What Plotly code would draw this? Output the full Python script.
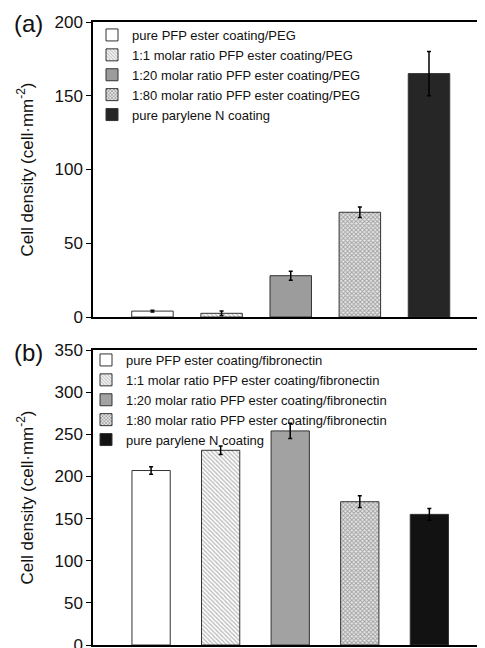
import plotly.graph_objects as go

categories = ["c1", "c2", "c3", "c4", "c5"]
names_a = ["pure PFP ester coating/PEG", "1:1 molar ratio PFP ester coating/PEG",
           "1:20 molar ratio PFP ester coating/PEG", "1:80 molar ratio PFP ester coating/PEG",
           "pure parylene N coating"]
values_a = [4, 2.5, 28, 71, 165]
errors_a = [0.6, 1.5, 3, 3.5, 15]
names_b = ["pure PFP ester coating/fibronectin", "1:1 molar ratio PFP ester coating/fibronectin",
           "1:20 molar ratio PFP ester coating/fibronectin", "1:80 molar ratio PFP ester coating/fibronectin",
           "pure parylene N coating"]
values_b = [207, 231, 254, 170, 155]
errors_b = [4.5, 5, 9, 7, 7]

# page body has an 8px margin; figure coordinates = screen coordinates - 8
OFF = 8
W, H = 485 - OFF, 648 - OFF
L = 93 - OFF

def dom(top, bottom):
    return [1 - (bottom - OFF) / H, 1 - (top - OFF) / H]

def py(y):
    return 1 - (y - OFF) / H

def px(x):
    return (x - OFF - L) / (W - L)

hatch = dict(shape="\\", fgcolor="#7a7a7a", bgcolor="white", size=3, solidity=0.45)
check = dict(shape="x", fgcolor="#5a5a5a", bgcolor="#e8e8e8", size=3, solidity=0.55)

styles_a = [
    dict(color="white", pattern=None),
    dict(color="white", pattern=hatch),
    dict(color="#9c9c9c", pattern=None),
    dict(color="white", pattern=check),
    dict(color="#262626", pattern=None),
]
styles_b = [
    dict(color="white", pattern=None),
    dict(color="white", pattern=hatch),
    dict(color="#a2a2a2", pattern=None),
    dict(color="white", pattern=check),
    dict(color="#121212", pattern=None),
]

fig = go.Figure()

for i in range(5):
    m = dict(color=styles_a[i]["color"], line=dict(color="#333333", width=1))
    if styles_a[i]["pattern"]:
        m["pattern"] = styles_a[i]["pattern"]
    fig.add_trace(go.Bar(x=[categories[i]], y=[values_a[i]], name=names_a[i], marker=m,
                         width=0.6, xaxis="x", yaxis="y", legend="legend",
                         error_y=dict(type="data", array=[errors_a[i]], color="black", thickness=1.5, width=2)))
for i in range(5):
    m = dict(color=styles_b[i]["color"], line=dict(color="#333333", width=1))
    if styles_b[i]["pattern"]:
        m["pattern"] = styles_b[i]["pattern"]
    fig.add_trace(go.Bar(x=[categories[i]], y=[values_b[i]], name=names_b[i], marker=m,
                         width=0.55, xaxis="x2", yaxis="y2", legend="legend2",
                         error_y=dict(type="data", array=[errors_b[i]], color="black", thickness=1.5, width=2)))

axis_font = dict(family="Liberation Sans, Arial", size=17, color="#111")
xcommon = dict(showline=True, linecolor="black", linewidth=1.5, mirror=True, showticklabels=False,
               ticks="", showgrid=False, zeroline=False, type="category", automargin=False)
ycommon = dict(showline=True, linecolor="black", linewidth=1.5, ticks="outside", ticklen=5,
               tickcolor="black", tickfont=axis_font, showgrid=False, zeroline=False, dtick=50,
               automargin=False, ticklabeloverflow="allow",
               title=dict(text="Cell density (cell·mm<sup>-2</sup>)", font=axis_font, standoff=17))

fig.update_layout(
    width=W, height=H,
    margin=dict(l=L, r=0, t=0, b=0, autoexpand=False),
    paper_bgcolor="white", plot_bgcolor="white",
    barmode="overlay",
    font=dict(family="Liberation Sans, Arial", color="#111"),
    xaxis=dict(domain=[0, 1], anchor="y", range=[-0.86, 4.81], **xcommon),
    yaxis=dict(domain=dom(22, 317), anchor="x", range=[0, 200], **ycommon),
    xaxis2=dict(domain=[0, 1], anchor="y2", range=[-0.835, 4.8], **xcommon),
    yaxis2=dict(domain=dom(350, 645), anchor="x2", range=[0, 350], **ycommon),
    legend=dict(x=px(92), y=py(20), xanchor="left", yanchor="top", bgcolor="rgba(0,0,0,0)",
                font=dict(size=13, family="Liberation Sans, Arial", color="#111"), tracegroupgap=0),
    legend2=dict(x=px(86), y=py(345), xanchor="left", yanchor="top", bgcolor="rgba(0,0,0,0)",
                 font=dict(size=13, family="Liberation Sans, Arial", color="#111"), tracegroupgap=0),
    showlegend=True,
    annotations=[
        dict(text="(a)", xref="paper", yref="paper", x=px(28), y=py(23),
             xanchor="center", yanchor="middle", showarrow=False,
             font=dict(size=24, family="Liberation Sans, Arial", color="#111")),
        dict(text="(b)", xref="paper", yref="paper", x=px(28), y=py(352),
             xanchor="center", yanchor="middle", showarrow=False,
             font=dict(size=24, family="Liberation Sans, Arial", color="#111")),
    ],
)

fig.write_html("out.html")
